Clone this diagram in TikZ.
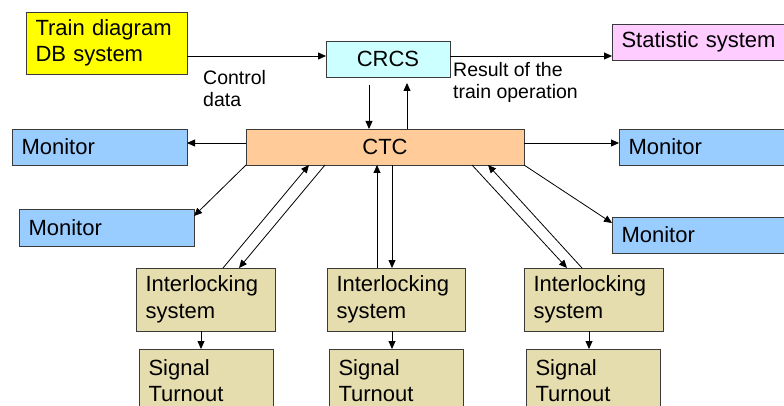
\documentclass[tikz,border=0pt]{standalone}
\usepackage{fontspec}
\setmainfont{Liberation Sans}
\usetikzlibrary{arrows.meta}
\definecolor{edgegray}{HTML}{3A3A3A}
\definecolor{dbyellow}{HTML}{FFFF00}
\definecolor{crcsfill}{HTML}{CCFFFF}
\definecolor{statfill}{HTML}{FFCCFF}
\definecolor{ctcfill}{HTML}{FFCC99}
\definecolor{monfill}{HTML}{99CCFF}
\definecolor{ilfill}{HTML}{E6DDAE}
\tikzset{
  box/.style={draw=edgegray, line width=0.9pt, inner sep=0pt, outer sep=0pt,
    font=\fontsize{22}{26.5}\selectfont},
  lbox/.style 2 args={box, minimum width=#1, minimum height=#2,
    text width=#1-19pt, align=left},
  cbox/.style 2 args={box, minimum width=#1, minimum height=#2, align=center},
  arr/.style={-{Triangle[length=8pt,width=7pt]}, line width=0.8pt},
  note/.style={font=\fontsize{19.5}{22.5}\selectfont, align=left, inner sep=0pt, anchor=north west}
}
\begin{document}
\begin{tikzpicture}[x=1pt,y=-1pt]
\useasboundingbox (0,0) rectangle (784,406);
\clip (0,0) rectangle (784,406);

% top row
\node[lbox={161pt}{62pt}, fill=dbyellow] (td) at (106.5,43) {Train diagram\\DB system};
\node[cbox={124pt}{36pt}, fill=crcsfill] (crcs) at (388,59) {CRCS};
\node[lbox={188pt}{36pt}, fill=statfill] (stat) at (706,42) {Statistic system};

% central controller and monitors
\node[cbox={278pt}{36pt}, fill=ctcfill] (ctc) at (385,147) {CTC};
\node[lbox={175pt}{36pt}, fill=monfill] (monA) at (99.5,147) {Monitor};
\node[lbox={175pt}{37pt}, fill=monfill] (monB) at (106.5,227.5) {Monitor};
\node[lbox={181pt}{36pt}, fill=monfill] (monC) at (709.5,147) {Monitor};
\node[lbox={188pt}{36pt}, fill=monfill] (monD) at (706,235) {Monitor};

% interlocking systems
\node[lbox={139pt}{63pt}, fill=ilfill] (ilA) at (205.5,299.5) {Interlocking\\system};
\node[lbox={138pt}{63pt}, fill=ilfill] (ilB) at (396,299.5) {Interlocking\\system};
\node[lbox={139pt}{63pt}, fill=ilfill] (ilC) at (593.5,299.5) {Interlocking\\system};

% field equipment
\node[lbox={134pt}{63pt}, fill=ilfill] (sgA) at (206,380.5) {Signal\\Turnout};
\node[lbox={134pt}{63pt}, fill=ilfill] (sgB) at (396,380.5) {Signal\\Turnout};
\node[lbox={134pt}{63pt}, fill=ilfill] (sgC) at (593,380.5) {Signal\\Turnout};

% labels
\node[note] (lblctl) at (203,70) {Control\\data};
\node[note] (lblres) at (453,62) {Result of the\\train operation};

% data flow along the top
\draw[arr] ([yshift=-13pt]td.east) -- ([yshift=3pt]crcs.west);
\draw[arr] ([yshift=3pt]crcs.east) -- ([yshift=-14pt]stat.west);
\draw[arr] ([xshift=-19pt,yshift=-8pt]crcs.south) -- ([xshift=-16pt]ctc.north);
\draw[arr] ([xshift=22pt]ctc.north) -- ([xshift=19pt,yshift=-6pt]crcs.south);

% CTC to monitors
\draw[arr] ([yshift=4pt]ctc.west) -- ([yshift=4pt]monA.east);
\draw[arr] ([yshift=4pt]ctc.east) -- ([yshift=4pt]monC.west);
\draw[arr] (ctc.south west) -- ([yshift=-7pt]monB.north east);
\draw[arr] (ctc.south east) -- ([yshift=-6pt]monD.north west);

% CTC and interlocking systems
\draw[arr] ([xshift=17.5pt]ilA.north) -- ([xshift=-76pt]ctc.south);
\draw[arr] ([xshift=-60pt]ctc.south) -- ([xshift=33.5pt]ilA.north);
\draw[arr] ([xshift=-19pt]ilB.north) -- ([xshift=-8pt]ctc.south);
\draw[arr] ([xshift=7pt]ctc.south) -- ([xshift=-4pt]ilB.north);
\draw[arr] ([xshift=87pt]ctc.south) -- ([xshift=-26.5pt]ilC.north);
\draw[arr] ([xshift=-11.5pt]ilC.north) -- ([xshift=103pt]ctc.south);

% interlocking to field equipment
\draw[arr] ([xshift=-4.5pt]ilA.south) -- ([xshift=-5pt]sgA.north);
\draw[arr] ([xshift=-4pt]ilB.south) -- ([xshift=-4pt]sgB.north);
\draw[arr] ([xshift=-4.5pt]ilC.south) -- ([xshift=-4pt]sgC.north);
\end{tikzpicture}
\end{document}
